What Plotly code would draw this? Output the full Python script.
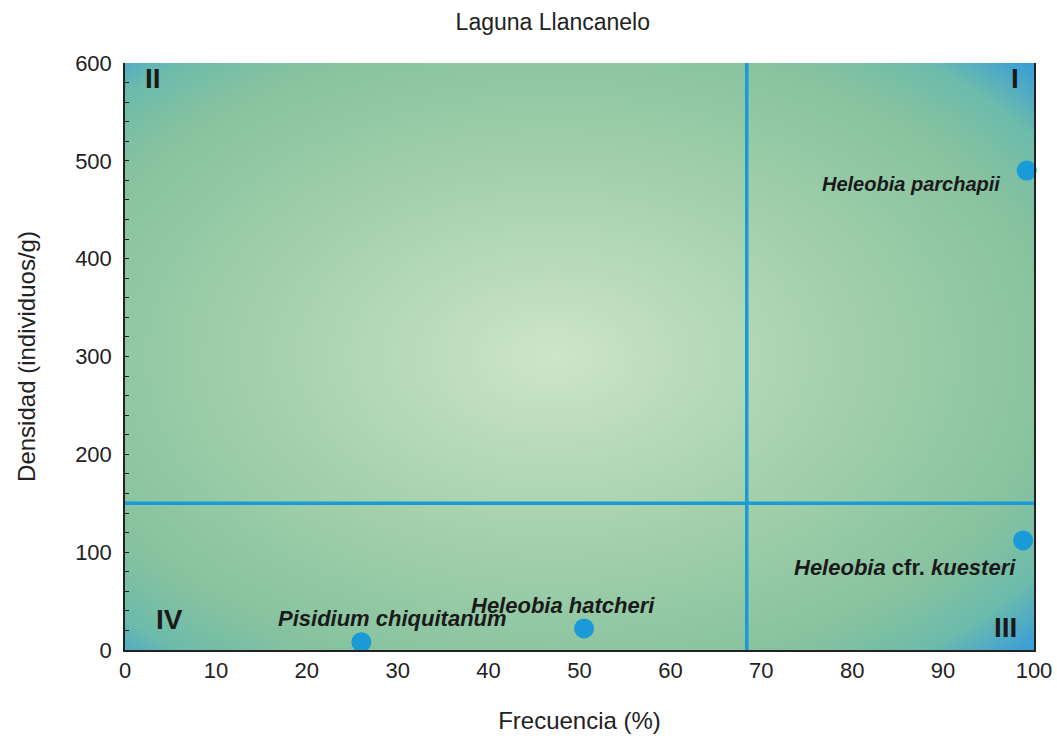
import plotly.graph_objects as go
import urllib.parse

# ---- data ----
species = ["Heleobia parchapii", "Heleobia cfr. kuesteri", "Heleobia hatcheri", "Pisidium chiquitanum"]
species_labels = ["<b><i>Heleobia parchapii</i></b>",
                  "<b><i>Heleobia</i> cfr. <i>kuesteri</i></b>",
                  "<b><i>Heleobia hatcheri</i></b>",
                  "<b><i>Pisidium chiquitanum</i></b>"]
frecuencia = [99.2, 98.8, 50.5, 26.0]
densidad = [490, 112, 22, 8]

freq_threshold = 68.4
dens_threshold = 150

quadrants = ["I", "II", "III", "IV"]

x_ticks = [0, 10, 20, 30, 40, 50, 60, 70, 80, 90, 100]
y_ticks = [0, 100, 200, 300, 400, 500, 600]

# ---- label placement / styling ----
label_x = [96.5, 98.2, 48.2, 29.4]
label_y = [476, 84, 46, 32]
label_anchor = ["right", "right", "center", "center"]
label_size = [20, 22, 22, 22]

quad_x = [98.6, 2.0, 98.3, 3.2]
quad_y = [584, 584, 23, 31]
quad_anchor = ["right", "left", "right", "left"]

blue = "#1a9ad6"

svg = """<svg xmlns='http://www.w3.org/2000/svg' width='910' height='588' viewBox='0 0 910 588' preserveAspectRatio='none'>
<defs><radialGradient id='g' cx='0.47' cy='0.5' r='0.72' fx='0.47' fy='0.5'>
<stop offset='0' stop-color='#cde5c8'/>
<stop offset='0.45' stop-color='#a3d0ab'/>
<stop offset='0.78' stop-color='#86c29f'/>
<stop offset='0.9' stop-color='#6cbbac'/>
<stop offset='1' stop-color='#3c9fd6'/>
</radialGradient></defs>
<rect x='0' y='0' width='910' height='588' fill='url(#g)'/>
</svg>"""
bg_src = "data:image/svg+xml;charset=utf-8," + urllib.parse.quote(svg)

fig = go.Figure()

fig.add_trace(go.Scatter(
    x=frecuencia, y=densidad, mode="markers",
    marker=dict(size=20, color=blue),
    text=species, hoverinfo="text", showlegend=False, cliponaxis=False))

fig.add_shape(type="line", x0=freq_threshold, x1=freq_threshold, y0=0, y1=600,
              xref="x", yref="y", line=dict(color=blue, width=3.5))
fig.add_shape(type="line", x0=0, x1=100, y0=dens_threshold, y1=dens_threshold,
              xref="x", yref="y", line=dict(color=blue, width=3.5))

for t, x, y, a, s in zip(species_labels, label_x, label_y, label_anchor, label_size):
    fig.add_annotation(x=x, y=y, text=t, showarrow=False, xanchor=a, yanchor="middle",
                       font=dict(family="Liberation Sans, Arial", size=s, color="#1a1a1a"))

for t, x, y, a in zip(quadrants, quad_x, quad_y, quad_anchor):
    fig.add_annotation(x=x, y=y, text="<b>" + t + "</b>", showarrow=False, xanchor=a, yanchor="middle",
                       font=dict(family="Liberation Sans, Arial", size=28, color="#1a1a1a"))

fig.add_layout_image(dict(source=bg_src, xref="x", yref="y", x=0, y=600, sizex=100, sizey=600,
                          sizing="stretch", layer="below", xanchor="left", yanchor="top"))

fig.update_layout(
    width=1057, height=744,
    margin=dict(l=125, r=23, t=63, b=94, autoexpand=False),
    paper_bgcolor="white", plot_bgcolor="white",
    title=dict(text="Laguna Llancanelo", x=0.523, xanchor="center", y=0.97, yanchor="middle",
               font=dict(family="Liberation Sans, Arial", size=23, color="#222")),
    font=dict(family="Liberation Sans, Arial", color="#222"),
)
fig.update_xaxes(range=[0, 100], tickvals=x_ticks, showgrid=False, zeroline=False,
                 showline=True, linecolor="#222", linewidth=1.5, ticks="", automargin=False,
                 tickfont=dict(size=22), title=dict(text="Frecuencia (%)", font=dict(size=24), standoff=30))
fig.update_yaxes(range=[0, 600], tickvals=y_ticks, showgrid=False, zeroline=False,
                 showline=True, linecolor="#222", linewidth=1.5, mirror=True, automargin=False,
                 ticks="inside", ticklen=4, tickcolor="#222", ticklabelstandoff=7,
                 minor=dict(dtick=20, ticks="inside", ticklen=4, tickcolor="#222"),
                 tickfont=dict(size=22), title=dict(text="Densidad (individuos/g)", font=dict(size=24), standoff=33))

fig.write_html("out.html", config={"displayModeBar": False},
               post_script="document.body.style.margin='0';document.body.style.overflow='hidden';")
